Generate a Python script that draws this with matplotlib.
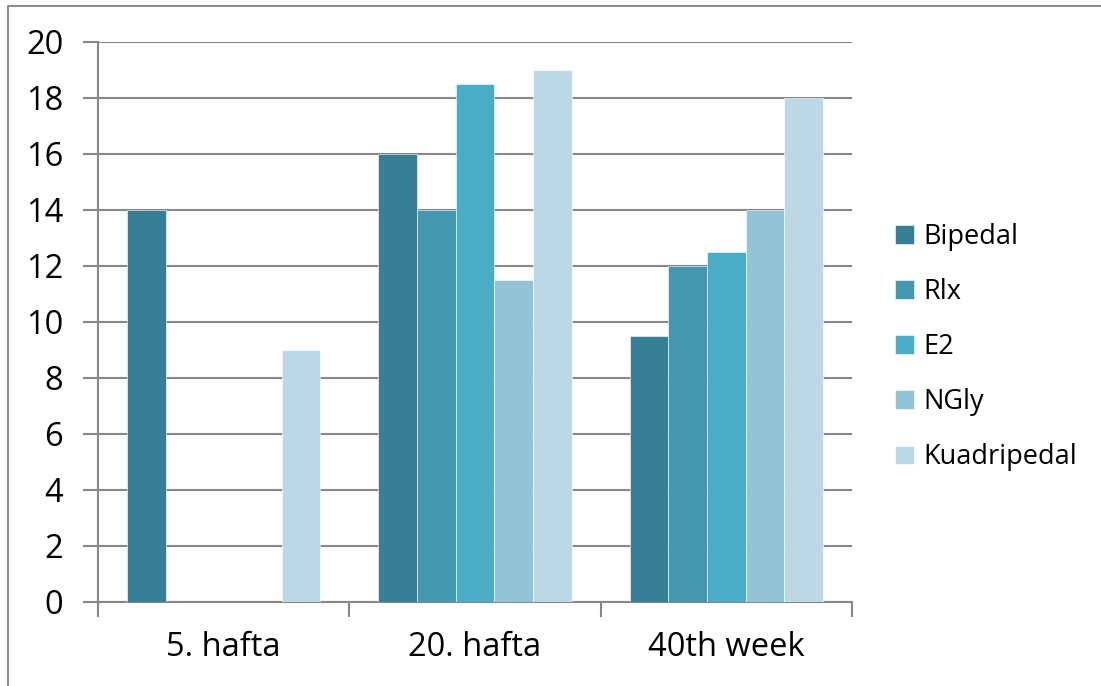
import matplotlib.pyplot as plt
import numpy as np
from matplotlib.lines import Line2D

# group labels and series values
groups = ['5. hafta', '20. hafta', '40th week']
series = ['Bipedal', 'Rlx', 'E2', 'NGly', 'Kuadripedal']
bipedal = [14, 16, 9.5]
rlx = [0, 14, 12]
e2 = [0, 18.5, 12.5]
ngly = [0, 11.5, 14]
kuadripedal = [9, 19, 18]
colors = ['#377F94', '#4397AE', '#4BACC6', '#93C3D5', '#BCD8E4']

values = [bipedal, rlx, e2, ngly, kuadripedal]

plt.rcParams['font.family'] = ['Open Sans', 'DejaVu Sans']

fig = plt.figure(figsize=(11.01, 6.86), dpi=100)
ax = fig.add_axes([98 / 1101, 1 - 602 / 686, (852 - 98) / 1101, (602 - 42) / 686])

x = np.arange(len(groups))
w = 1 / 6.5
for i, (name, vals) in enumerate(zip(series, values)):
    ax.bar(x - 2 * w + i * w, vals, width=w, color=colors[i], label=name,
           edgecolor='#ffffff', linewidth=0.4, zorder=3)

grid_col = '#878787'
ax.set_xlim(-0.5, 2.5)
ax.set_ylim(0, 20)
ax.set_yticks(np.arange(0, 21, 2))
ax.yaxis.grid(True, color=grid_col, linewidth=1.5, zorder=0)
ax.set_xticks([-0.5, 0.5, 1.5, 2.5])
ax.set_xticklabels([])
ax.set_xticks(x, minor=True)
ax.set_xticklabels(groups, minor=True)
ax.tick_params(axis='x', which='minor', length=0, pad=21, labelsize=23.5)
ax.tick_params(axis='x', which='major', length=11, width=1.5, color=grid_col)
ax.tick_params(axis='y', length=11, width=1.5, color=grid_col, pad=14, labelsize=23.5)
for s in ['top', 'right']:
    ax.spines[s].set_visible(False)
for s in ['left', 'bottom']:
    ax.spines[s].set_color(grid_col)
    ax.spines[s].set_linewidth(1.5)

ax.legend(loc='center left', bbox_to_anchor=(1.025, 0.455), frameon=False,
          fontsize=19.5, handlelength=0.68, handleheight=0.68,
          labelspacing=1.0, handletextpad=0.35)

# chart area frame (left and top edge)
fig.add_artist(Line2D([8 / 1101, 8 / 1101, 1.0], [0.0, 1 - 6 / 686, 1 - 6 / 686],
                      color='#8c8c8c', linewidth=1.5))

fig.savefig('out.png', dpi=100)
